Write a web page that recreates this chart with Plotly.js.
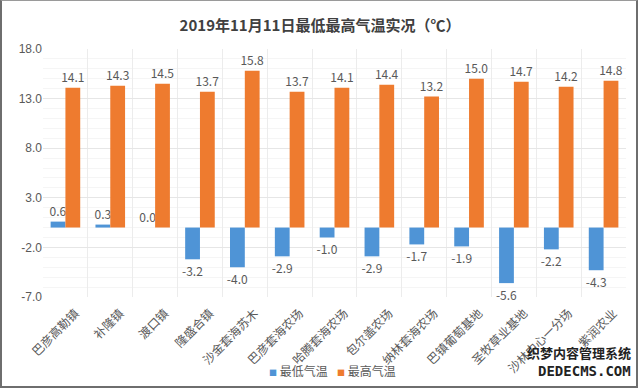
<!DOCTYPE html>
<html>
<head>
<meta charset="utf-8">
<script src="https://cdn.plot.ly/plotly-3.0.1.min.js"></script>
<style>
html,body{margin:0;padding:0;background:#fff;}
#wrap{position:relative;width:640px;height:390px;}
#chart{width:640px;height:390px;}
#frame{position:absolute;left:0;top:0;width:638px;height:388px;box-sizing:border-box;border:2px solid #6e6e6e;border-top:1px solid #9a9a9a;pointer-events:none;}
</style>
</head>
<body>
<div id="wrap"><div id="chart"></div><div id="frame"></div></div>
<script>
const categories = ['巴彦高勒镇','补隆镇','渡口镇','隆盛合镇','沙金套海苏木','巴彦套海农场','哈腾套海农场','包尔盖农场','纳林套海农场','巴镇葡萄基地','圣牧草业基地','沙林中心一分场','紫润农业'];
const minTemp = [0.6, 0.3, 0.0, -3.2, -4.0, -2.9, -1.0, -2.9, -1.7, -1.9, -5.6, -2.2, -4.3];
const maxTemp = [14.1, 14.3, 14.5, 13.7, 15.8, 13.7, 14.1, 14.4, 13.2, 15.0, 14.7, 14.2, 14.8];
const seriesNames = ['最低气温','最高气温'];
const yTicks = [-7, -2, 3, 8, 13, 18];

const colors = ['#4f94d6', '#ee7b2f'];
const cjk = '"Noto Sans CJK SC", "Noto Sans", sans-serif';
const labelFont = {family: cjk, size: 12, color: '#595959'};

const traces = [
  {type:'bar', name: seriesNames[0], x: categories, y: minTemp,
   marker:{color:colors[0]}, text: minTemp.map(v=>v.toFixed(1)),
   textposition:'outside', constraintext:'none', textfont: labelFont, cliponaxis:false},
  {type:'bar', name: seriesNames[1], x: categories, y: maxTemp,
   marker:{color:colors[1]}, text: maxTemp.map(v=>v.toFixed(1)),
   textposition:'outside', constraintext:'none', textfont: labelFont, cliponaxis:false}
];

const legendAnn = seriesNames.map((n, i) => ({
  xref:'paper', yref:'paper', x: [0.385, 0.5][i], y: -0.298, xanchor:'left', yanchor:'middle',
  showarrow:false,
  text:'<span style="color:' + colors[i] + ';font-size:8px">■</span> ' + n,
  font:{family: cjk, size:12, color:'#595959'}
}));

const layout = {
  width: 640, height: 390,
  margin: {l:43, r:14, t:49, b:93, autoexpand:false},
  paper_bgcolor:'#fff', plot_bgcolor:'#fff',
  title: {text:'2019年11月11日最低最高气温实况（℃）', x:0.5, xanchor:'center', y:0.935, yanchor:'middle',
          font:{family: cjk, size:15, color:'#404040', weight:'bold'}},
  barmode:'group', bargap:0.34, bargroupgap:0,
  showlegend:false,
  xaxis:{type:'category', tickson:'boundaries', showgrid:true, gridcolor:'#ececec',
         tickangle:-45, tickfont:{family: cjk, size:12, color:'#595959'},
         ticklabelshift:10, ticklabelstandoff:6,
         showline:false, ticks:'', zeroline:false, automargin:false},
  yaxis:{range:[-7,18], tickmode:'array', tickvals: yTicks, ticktext: yTicks.map(v=>v.toFixed(1)),
         showgrid:true, gridcolor:'#e6e6e6', zeroline:false, showline:false, ticks:'',
         tickfont:{family:'"Liberation Sans", Arial, sans-serif', size:12, color:'#595959'},
         minor:{dtick:1, tick0:-7, showgrid:true, gridcolor:'#f5f5f5'}, automargin:false},
  annotations: legendAnn.concat([
    {xref:'paper', yref:'paper', x:1.012, y:-0.222, xanchor:'right', yanchor:'middle', showarrow:false,
     text:'<b>织梦内容管理系统</b>', font:{family: cjk, size:13, color:'#222'}},
    {xref:'paper', yref:'paper', x:1.012, y:-0.298, xanchor:'right', yanchor:'middle', showarrow:false,
     text:'<b>DEDECMS.COM</b>', font:{family:'"DejaVu Sans Mono", monospace', size:14, color:'#222'}}
  ])
};

Plotly.newPlot('chart', traces, layout, {displayModeBar:false, staticPlot:true});
</script>
</body>
</html>
